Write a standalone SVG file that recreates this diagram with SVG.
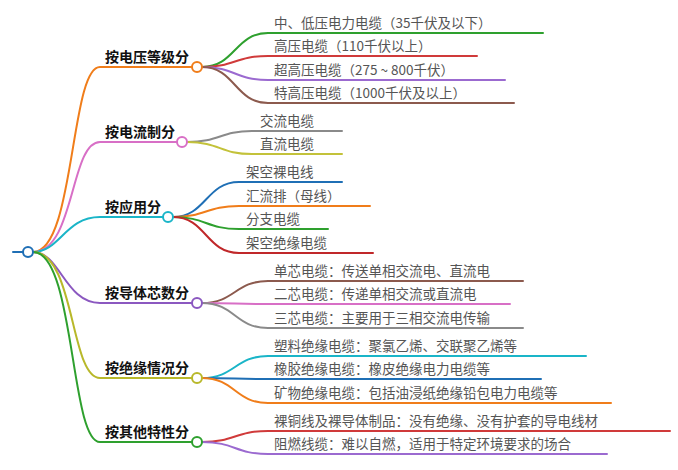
<svg xmlns="http://www.w3.org/2000/svg" width="678" height="470" viewBox="0 0 678 470">
<style>
.c{fill:none;stroke-width:2;stroke-linecap:round}
.t{font-family:"Noto Sans CJK SC","Liberation Sans",sans-serif;font-size:13.5px;fill:#555}
.b{font-family:"Noto Sans CJK SC","Liberation Sans",sans-serif;font-size:14px;font-weight:bold;fill:#111}
.n{fill:#fff;stroke-width:2}
</style>
<rect width="678" height="470" fill="#fff"/>
<g id="connectors">
<path class="c" d="M13,252H24" stroke="#1f6fb5" stroke-width="3"/>
<path class="c" stroke="#f07d1a" d="M33,252C75,252 70,67 100,67H192"/>
<path class="c" stroke="#d86fc6" d="M33,252C75,252 70,142 100,142H177"/>
<path class="c" stroke="#1ab5c8" d="M33,252C60,252 65,217 100,217H163"/>
<path class="c" stroke="#8b58c0" d="M33,252C60,252 65,303 100,303H192"/>
<path class="c" stroke="#b8b82a" d="M33,252C75,252 70,378 100,378H192"/>
<path class="c" stroke="#2ea02e" d="M33,252C75,252 70,442 100,442H192"/>
<g>
<path class="c" stroke="#2ea02e" d="M202,67C235,67 235,33 268,33H543"/>
<path class="c" stroke="#d03a3a" d="M202,67C235,67 235,56 268,56H477"/>
<path class="c" stroke="#9b6ad0" d="M202,67C235,67 235,80 268,80H505"/>
<path class="c" stroke="#8c5a4e" d="M202,67C235,67 235,103 268,103H514"/>
<path class="c" stroke="#8a8a8a" d="M187,142C220,142 220,131 252,131H342"/>
<path class="c" stroke="#c3c23a" d="M187,142C220,142 220,154 252,154H342"/>
<path class="c" stroke="#1f6fb5" d="M173,217C206,217 206,182 239,182H342"/>
<path class="c" stroke="#f07d1a" d="M173,217C206,217 206,206 239,206H370"/>
<path class="c" stroke="#2ea02e" d="M173,217C206,217 206,229 239,229H328"/>
<path class="c" stroke="#c0282a" d="M173,217C206,217 206,253 239,253H373"/>
<path class="c" stroke="#8c5a4e" d="M202,303C235,303 235,281 268,281H523"/>
<path class="c" stroke="#d86fc6" d="M202,303C235,303 235,304 268,304H510"/>
<path class="c" stroke="#8a8a8a" d="M202,303C235,303 235,328 268,328H523"/>
<path class="c" stroke="#1ab5c8" d="M202,378C235,378 235,356 268,356H586"/>
<path class="c" stroke="#1f6fb5" d="M202,378C235,378 235,379 268,379H541"/>
<path class="c" stroke="#f07d1a" d="M202,378C235,378 235,403 268,403H611"/>
<path class="c" stroke="#d03a3a" d="M202,442C235,442 235,431 268,431H670"/>
<path class="c" stroke="#9b6ad0" d="M202,442C235,442 235,454 268,454H607"/>
</g>
</g>
<g id="root"><circle class="n" cx="28" cy="252" r="5" stroke="#1f6fb5"/></g>
<g id="n1"><text class="b" x="105" y="62">按电压等级分</text><circle class="n" cx="197" cy="67" r="5" stroke="#f07d1a"/></g>
<g id="n2"><text class="b" x="105" y="137">按电流制分</text><circle class="n" cx="182" cy="142" r="5" stroke="#d86fc6"/></g>
<g id="n3"><text class="b" x="105" y="212">按应用分</text><circle class="n" cx="168" cy="217" r="5" stroke="#1ab5c8"/></g>
<g id="n4"><text class="b" x="105" y="298">按导体芯数分</text><circle class="n" cx="197" cy="303" r="5" stroke="#8b58c0"/></g>
<g id="n5"><text class="b" x="105" y="373">按绝缘情况分</text><circle class="n" cx="197" cy="378" r="5" stroke="#b8b82a"/></g>
<g id="n6"><text class="b" x="105" y="437">按其他特性分</text><circle class="n" cx="197" cy="442" r="5" stroke="#2ea02e"/></g>
<g id="leaves">
<text class="t" x="274" y="28">中、低压电力电缆（35千伏及以下）</text>
<text class="t" x="274" y="51">高压电缆（110千伏以上）</text>
<text class="t" x="274" y="75">超高压电缆（275 ~ 800千伏）</text>
<text class="t" x="274" y="98">特高压电缆（1000千伏及以上）</text>
<text class="t" x="260" y="126">交流电缆</text>
<text class="t" x="260" y="149">直流电缆</text>
<text class="t" x="246" y="177">架空裸电线</text>
<text class="t" x="246" y="201">汇流排（母线）</text>
<text class="t" x="246" y="224">分支电缆</text>
<text class="t" x="246" y="248">架空绝缘电缆</text>
<text class="t" x="274" y="276">单芯电缆：传送单相交流电、直流电</text>
<text class="t" x="274" y="299">二芯电缆：传递单相交流或直流电</text>
<text class="t" x="274" y="323">三芯电缆：主要用于三相交流电传输</text>
<text class="t" x="274" y="351">塑料绝缘电缆：聚氯乙烯、交联聚乙烯等</text>
<text class="t" x="274" y="374">橡胶绝缘电缆：橡皮绝缘电力电缆等</text>
<text class="t" x="274" y="398">矿物绝缘电缆：包括油浸纸绝缘铅包电力电缆等</text>
<text class="t" x="274" y="426">裸铜线及裸导体制品：没有绝缘、没有护套的导电线材</text>
<text class="t" x="274" y="449">阻燃线缆：难以自燃，适用于特定环境要求的场合</text>
</g>
</svg>
